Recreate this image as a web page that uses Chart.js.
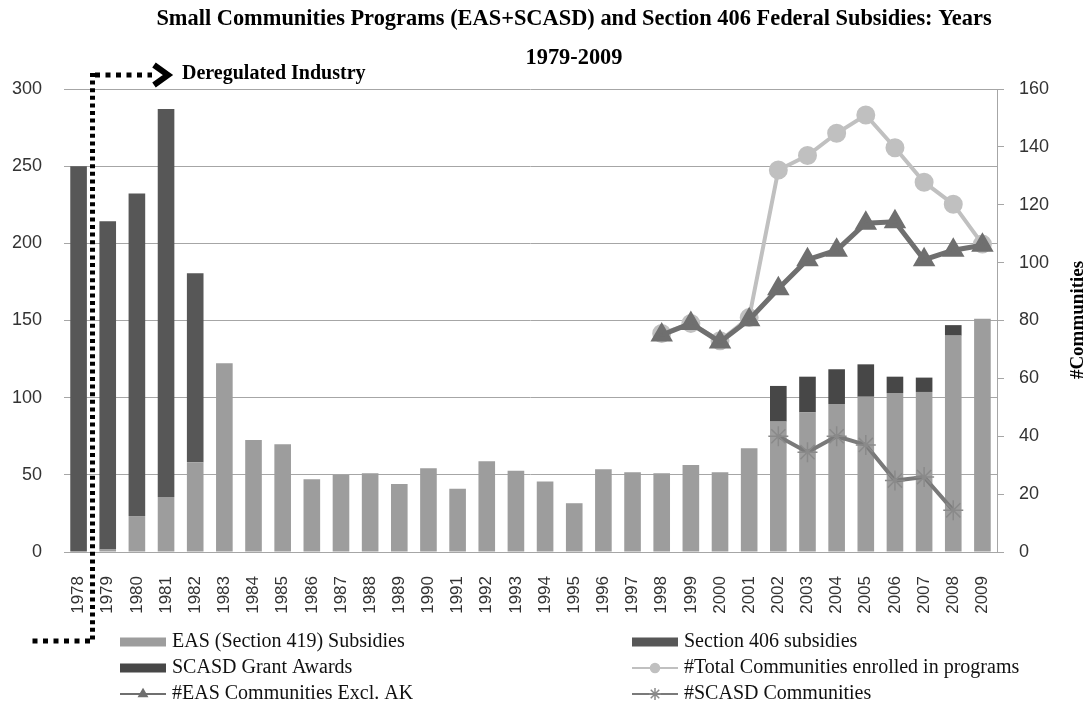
<!DOCTYPE html>
<html>
<head>
<meta charset="utf-8">
<script src="https://cdn.jsdelivr.net/npm/chart.js@4/dist/chart.umd.min.js"></script>
<style>
  body { margin: 0; background: #fff; }
  #wrap { width: 1086px; height: 705px; position: relative; }
</style>
</head>
<body>
<div id="wrap"><canvas id="subsidyChart" width="1086" height="705"></canvas></div>
<script>
// years on the category axis
const years = ['1978','1979','1980','1981','1982','1983','1984','1985','1986','1987','1988',
    '1989','1990','1991','1992','1993','1994','1995','1996','1997','1998','1999','2000',
    '2001','2002','2003','2004','2005','2006','2007','2008','2009'];

// subsidies, left axis
const easSubsidies = [null,1.7,23.3,35.6,58.1,122.3,72.6,69.8,47.1,49.9,51.0,44.1,54.2,41.0,58.8,
    52.7,45.6,31.6,53.6,51.7,51.0,56.4,51.7,67.2,84.5,90.5,95.9,100.6,103.0,103.7,140.2,151.2];
const sec406Subsidies = [250,212.6,209,251.5,122.5,null,null,null,null,null,null,null,null,null,
    null,null,null,null,null,null,null,null,null,null,null,null,null,null,null,null,null,null];
const scasdGrants = [null,null,null,null,null,null,null,null,null,null,null,null,null,null,null,
    null,null,null,null,null,null,null,null,null,23.1,23.1,22.5,21.0,10.6,9.3,6.8,null];

// communities, right axis
const totalCommunities = [null,null,null,null,null,null,null,null,null,null,null,null,null,null,
    null,null,null,null,null,null,75.5,79,73,81,132,137,144.7,151,139.7,127.8,120.2,106.4];
const easCommunities = [null,null,null,null,null,null,null,null,null,null,null,null,null,null,
    null,null,null,null,null,null,75,79,72.6,80.3,91,101,104.3,113.6,114.1,101,104.3,106];
const scasdCommunities = [null,null,null,null,null,null,null,null,null,null,null,null,null,null,
    null,null,null,null,null,null,null,null,null,null,40,34.5,40,37,24.7,25.9,14.4,null];

const leftTicks = { min: 0, max: 300, step: 50 };
const rightTicks = { min: 0, max: 160, step: 20 };

const titleLines = ['Small Communities Programs (EAS+SCASD) and Section 406 Federal Subsidies: Years', '1979-2009'];
const noteText = 'Deregulated Industry';
const rightAxisTitle = '#Communities';

const serif = '"Liberation Serif", "Times New Roman", serif';
const sans = '"Liberation Sans", Arial, sans-serif';

function drawLegendMarker(ctx, ds, x, y) {
    Chart.helpers.drawPoint(ctx, {
        pointStyle: ds.pointStyle,
        radius: ds.pointRadius * 0.6,
        borderWidth: 1.5,
        rotation: 0
    }, x, y);
}

// title, dotted marker, axis title and legend drawn on top
const overlay = {
    id: 'overlay',
    afterDraw(chart) {
        const ctx = chart.ctx;
        ctx.save();
        ctx.fillStyle = '#000';
        ctx.textAlign = 'center';
        ctx.textBaseline = 'middle';
        ctx.font = 'bold 22.4px ' + serif;
        ctx.fillText(titleLines[0], 574, 19);
        ctx.fillText(titleLines[1], 574, 58);

        // dotted "deregulated" line
        ctx.strokeStyle = '#000';
        ctx.lineWidth = 5;
        ctx.lineCap = 'butt';
        ctx.setLineDash([4, 3.6]);
        ctx.beginPath();
        ctx.moveTo(92.5, 73);
        ctx.lineTo(92.5, 643);
        ctx.stroke();
        ctx.setLineDash([5, 5.5]);
        ctx.beginPath();
        ctx.moveTo(90, 641);
        ctx.lineTo(30, 641);
        ctx.stroke();
        ctx.beginPath();
        ctx.moveTo(95, 75);
        ctx.lineTo(152, 75);
        ctx.stroke();
        ctx.setLineDash([]);
        ctx.lineWidth = 6;
        ctx.lineJoin = 'miter';
        ctx.beginPath();
        ctx.moveTo(154, 65);
        ctx.lineTo(168, 75);
        ctx.lineTo(154, 85);
        ctx.stroke();

        ctx.textAlign = 'left';
        ctx.font = 'bold 20px ' + serif;
        ctx.fillText(noteText, 182, 74);

        // right axis title, reading upward
        ctx.save();
        ctx.translate(1078, 320);
        ctx.rotate(-Math.PI / 2);
        ctx.textAlign = 'center';
        ctx.font = 'bold 19px ' + serif;
        ctx.fillText(rightAxisTitle, 0, 0);
        ctx.restore();

        // legend, two columns
        const colX = [120, 632];
        const rowY = [642, 668, 694];
        const sw = 46;
        ctx.font = '20px ' + serif;
        ctx.textBaseline = 'middle';
        chart.data.datasets.forEach((ds, i) => {
            const x = colX[i % 2];
            const y = rowY[Math.floor(i / 2)];
            if (ds.type === 'line') {
                ctx.strokeStyle = ds.borderColor;
                ctx.lineWidth = 2;
                ctx.beginPath();
                ctx.moveTo(x, y);
                ctx.lineTo(x + sw, y);
                ctx.stroke();
                ctx.fillStyle = ds.pointBackgroundColor;
                ctx.strokeStyle = ds.pointBorderColor;
                ctx.lineWidth = 1.5;
                drawLegendMarker(ctx, ds, x + sw / 2, y);
            } else {
                ctx.fillStyle = ds.backgroundColor;
                ctx.fillRect(x, y - 4.5, sw, 9);
            }
            ctx.fillStyle = '#111';
            ctx.fillText(ds.label, x + sw + 6, y);
        });
        ctx.restore();
    }
};

const ctx = document.getElementById('subsidyChart').getContext('2d');
const subsidyChart = new Chart(ctx, {
    type: 'bar',
    data: {
        labels: years,
        datasets: [{
            label: 'EAS (Section 419) Subsidies',
            data: easSubsidies,
            backgroundColor: '#9d9d9d',
            order: 3
        },{
            label: 'Section 406 subsidies',
            data: sec406Subsidies,
            backgroundColor: '#575757',
            order: 3
        },{
            label: 'SCASD Grant Awards',
            data: scasdGrants,
            backgroundColor: '#474747',
            order: 3
        },{
            type: 'line',
            label: '#Total Communities enrolled in programs',
            data: totalCommunities,
            yAxisID: 'y1',
            borderColor: '#c0c0c0',
            borderWidth: 4,
            pointStyle: 'circle',
            pointRadius: 7.5,
            pointBackgroundColor: '#c0c0c0',
            pointBorderColor: '#c0c0c0',
            order: 1
        },{
            type: 'line',
            label: '#EAS Communities Excl. AK',
            data: easCommunities,
            yAxisID: 'y1',
            borderColor: '#6f6f6f',
            borderWidth: 5,
            pointStyle: 'triangle',
            pointRadius: 8,
            pointBackgroundColor: '#6f6f6f',
            pointBorderColor: '#6f6f6f',
            order: 0
        },{
            type: 'line',
            label: '#SCASD Communities',
            data: scasdCommunities,
            yAxisID: 'y1',
            borderColor: '#7a7a7a',
            borderWidth: 4,
            pointStyle: 'star',
            pointRadius: 10,
            pointBackgroundColor: '#8a8a8a',
            pointBorderColor: '#8a8a8a',
            pointBorderWidth: 1.5,
            order: 1
        }]
    },
    options: {
        responsive: false,
        animation: false,
        layout: { padding: { top: 89, bottom: 0, left: 0, right: 0 } },
        datasets: {
            bar: { barPercentage: 0.57, categoryPercentage: 1.0 }
        },
        plugins: {
            legend: { display: false },
            tooltip: { enabled: false }
        },
        scales: {
            x: {
                stacked: true,
                afterFit: (scale) => { scale.height = 153; },
                grid: { display: false },
                border: { color: '#a6a6a6' },
                ticks: {
                    minRotation: 90,
                    maxRotation: 90,
                    padding: 16,
                    color: '#333',
                    font: { family: sans, size: 17 }
                }
            },
            y: {
                stacked: true,
                position: 'left',
                min: leftTicks.min,
                max: leftTicks.max,
                afterFit: (scale) => { scale.width = 64; },
                border: { display: false },
                grid: { color: '#a6a6a6', drawTicks: false },
                ticks: {
                    stepSize: leftTicks.step,
                    padding: 22,
                    color: '#333',
                    font: { family: sans, size: 18 }
                }
            },
            y1: {
                stacked: false,
                position: 'right',
                min: rightTicks.min,
                max: rightTicks.max,
                afterFit: (scale) => { scale.width = 89; },
                border: { display: true, color: '#a6a6a6' },
                grid: { drawOnChartArea: false, color: '#a6a6a6', tickLength: 7 },
                ticks: {
                    stepSize: rightTicks.step,
                    padding: 15,
                    color: '#333',
                    font: { family: sans, size: 18 }
                }
            }
        }
    },
    plugins: [overlay]
});
</script>
</body>
</html>
